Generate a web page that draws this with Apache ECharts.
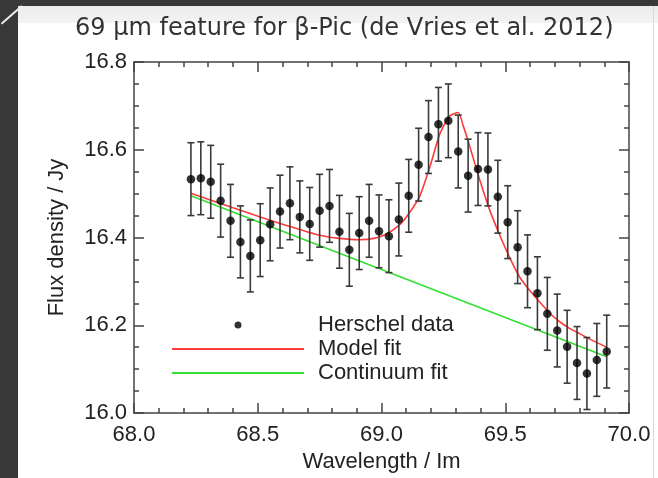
<!DOCTYPE html>
<html>
<head>
<meta charset="utf-8">
<script src="https://cdn.jsdelivr.net/npm/echarts@6/dist/echarts.min.js"></script>
<style>
  html, body { margin: 0; padding: 0; width: 658px; height: 478px; overflow: hidden; background: #383838; }
  .panel { position: absolute; left: 18px; top: 6px; right: 0; bottom: 0; background: #fff; }
  .band { position: absolute; left: 18px; top: 6px; right: 0; height: 17px; background: linear-gradient(#ececec, #f3f3f3); }
  .edge { position: absolute; left: 653px; top: 6px; width: 1px; bottom: 0; background: #d8d8d8; }
  .diag { position: absolute; left: -2px; top: 14px; width: 27px; height: 1.5px; background: #eee; transform: rotate(-41deg); }
  #chart { position: absolute; left: 0; top: 0; width: 658px; height: 478px; }
</style>
</head>
<body>
<div class="panel"></div>
<div class="band"></div>
<div class="edge"></div>
<div class="diag"></div>
<div id="chart"></div>
<script>
// Herschel PACS data points (wavelength in um, flux in Jy)
var wavelength = [68.23, 68.27, 68.31, 68.35, 68.39, 68.43, 68.47, 68.51, 68.55, 68.59,
  68.63, 68.67, 68.71, 68.75, 68.79, 68.83, 68.87, 68.91, 68.95, 68.99,
  69.03, 69.07, 69.11, 69.15, 69.19, 69.23, 69.27, 69.31, 69.35, 69.39,
  69.43, 69.47, 69.51, 69.55, 69.59, 69.63, 69.67, 69.71, 69.75, 69.79,
  69.83, 69.87, 69.91]
var flux = [16.533, 16.535, 16.527, 16.484, 16.438, 16.390, 16.358, 16.394, 16.430, 16.459,
  16.478, 16.447, 16.431, 16.461, 16.472, 16.413, 16.372, 16.410, 16.438, 16.414,
  16.403, 16.441, 16.495, 16.566, 16.629, 16.658, 16.666, 16.596, 16.541, 16.556,
  16.555, 16.493, 16.435, 16.378, 16.323, 16.273, 16.226, 16.188, 16.151, 16.114,
  16.090, 16.121, 16.140]
var fluxErr = [0.083, 0.083, 0.083, 0.083, 0.083, 0.082, 0.082, 0.083, 0.083, 0.083,
  0.083, 0.082, 0.083, 0.083, 0.083, 0.083, 0.083, 0.083, 0.083, 0.083,
  0.083, 0.083, 0.083, 0.083, 0.083, 0.084, 0.084, 0.083, 0.083, 0.083,
  0.083, 0.083, 0.083, 0.083, 0.083, 0.083, 0.083, 0.083, 0.083, 0.083,
  0.082, 0.083, 0.083]

// model fit (red) and continuum fit (green)
var modelX = [68.23, 68.43, 68.59, 68.67, 68.75, 68.83, 68.91, 68.97, 69.02, 69.075,
  69.115, 69.155, 69.195, 69.235, 69.275, 69.31, 69.33, 69.357, 69.397, 69.437,
  69.478, 69.518, 69.558, 69.599, 69.639, 69.679, 69.72, 69.76, 69.80, 69.84, 69.91]
var modelY = [16.501, 16.462, 16.432, 16.418, 16.405, 16.398, 16.395, 16.398, 16.408, 16.430,
  16.458, 16.495, 16.560, 16.635, 16.677, 16.685, 16.655, 16.607, 16.531, 16.463,
  16.405, 16.354, 16.310, 16.279, 16.253, 16.228, 16.208, 16.193, 16.181, 16.169, 16.150]
var contX = [68.23, 69.91]
var contY = [16.495, 16.128]

var xTicks = [68.0, 68.5, 69.0, 69.5, 70.0]
var yTicks = [16.0, 16.2, 16.4, 16.6, 16.8]

var axisColor = '#444'
var textColor = '#222'
var font = 'Liberation Sans'

var chart = echarts.init(document.getElementById('chart'))

function pairs(xs, ys) {
  return xs.map(function (x, i) { return [x, ys[i]] })
}

function makeAxis(isX, pos, showLabel) {
  var ticks = isX ? xTicks : yTicks
  var ax = {
    type: 'value',
    position: pos,
    min: ticks[0],
    max: ticks[ticks.length - 1],
    interval: ticks[1] - ticks[0],
    splitLine: { show: false },
    axisLine: { show: true, lineStyle: { color: axisColor, width: 1.5 } },
    axisTick: { show: true, inside: true, length: 10, lineStyle: { color: axisColor, width: 1.5 } },
    minorTick: { show: true, splitNumber: isX ? 5 : 4, length: 5, lineStyle: { color: axisColor, width: 1.5 } },
    axisLabel: {
      show: showLabel,
      fontSize: 22,
      fontFamily: font,
      color: textColor,
      margin: isX ? 11 : 7,
      formatter: function (v) { return v.toFixed(1) }
    }
  }
  return ax
}

var xBottom = makeAxis(true, 'bottom', true)
xBottom.name = 'Wavelength / Im'
xBottom.nameLocation = 'middle'
xBottom.nameGap = 38
xBottom.nameTextStyle = { fontSize: 22, fontFamily: font, color: textColor }

var yLeft = makeAxis(false, 'left', true)
yLeft.name = 'Flux density / Jy'
yLeft.nameLocation = 'middle'
yLeft.nameGap = 66
yLeft.nameTextStyle = { fontSize: 22, fontFamily: font, color: textColor }

var option = {
  animation: false,
  title: {
    text: '69 µm feature for β-Pic (de Vries et al. 2012)',
    left: 70,
    top: 12,
    textStyle: { fontFamily: 'DejaVu Sans', fontSize: 24, fontWeight: 'normal', color: '#333' }
  },
  grid: { left: 134, top: 62, width: 495, height: 351 },
  legend: {
    orient: 'vertical',
    left: 171,
    top: 313,
    padding: 0,
    itemWidth: 132,
    itemHeight: 7,
    itemGap: 0,
    data: [
      { name: 'Herschel data' },
      { name: 'Model fit', itemStyle: { opacity: 0 } },
      { name: 'Continuum fit', itemStyle: { opacity: 0 } }
    ],
    textStyle: { fontSize: 22, fontFamily: font, color: textColor, lineHeight: 24, padding: [0, 0, 0, 9] }
  },
  xAxis: [xBottom, makeAxis(true, 'top', false)],
  yAxis: [yLeft, makeAxis(false, 'right', false)],
  series: [
    {
      name: 'Continuum fit',
      type: 'line',
      data: pairs(contX, contY),
      symbol: 'none',
      lineStyle: { color: '#33e033', width: 1.6 },
      itemStyle: { color: '#33e033' },
      z: 2
    },
    {
      name: 'Model fit',
      type: 'line',
      data: pairs(modelX, modelY),
      symbol: 'none',
      smooth: 0.2,
      lineStyle: { color: '#ff3b3b', width: 1.6 },
      itemStyle: { color: '#ff3b3b' },
      z: 3
    },
    {
      name: 'errors',
      type: 'custom',
      data: wavelength.map(function (w, i) { return [w, flux[i] - fluxErr[i], flux[i] + fluxErr[i]] }),
      encode: { x: 0, y: [1, 2] },
      renderItem: function (params, api) {
        var x = api.value(0)
        var top = api.coord([x, api.value(2)])
        var bot = api.coord([x, api.value(1)])
        var cap = 3.5
        var st = { stroke: '#3a3a3a', lineWidth: 1.6 }
        return {
          type: 'group',
          children: [
            { type: 'line', shape: { x1: top[0], y1: top[1], x2: bot[0], y2: bot[1] }, style: st },
            { type: 'line', shape: { x1: top[0] - cap, y1: top[1], x2: top[0] + cap, y2: top[1] }, style: st },
            { type: 'line', shape: { x1: bot[0] - cap, y1: bot[1], x2: bot[0] + cap, y2: bot[1] }, style: st }
          ]
        }
      },
      z: 4
    },
    {
      name: 'Herschel data',
      type: 'scatter',
      data: pairs(wavelength, flux),
      symbol: 'circle',
      symbolSize: 8.5,
      itemStyle: { color: '#000' },
      z: 5
    }
  ]
}

chart.setOption(option)
</script>
</body>
</html>
